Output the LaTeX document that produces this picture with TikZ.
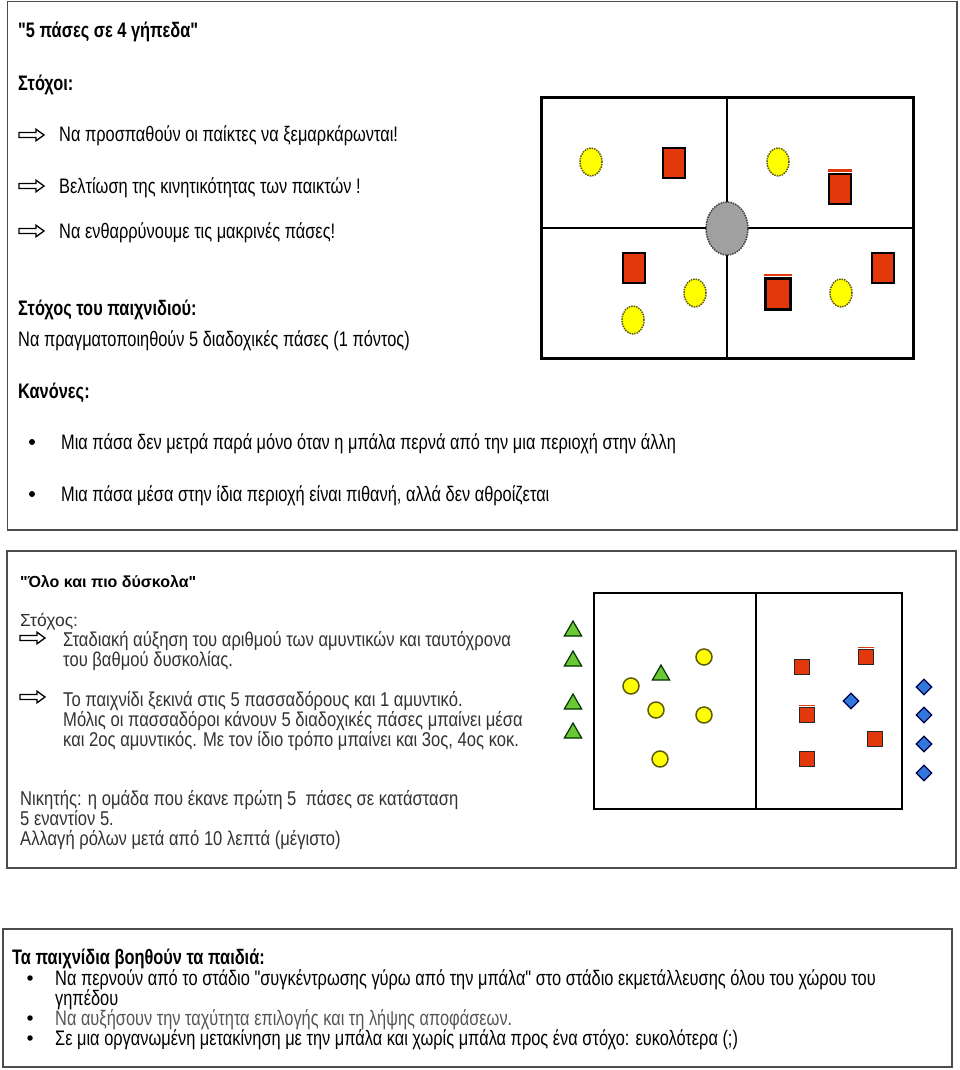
\documentclass[tikz,border=0pt]{standalone}
\usepackage{fontspec}
\setmainfont{Liberation Sans}[FakeStretch=0.78, Ligatures=TeXOff]
\newfontfamily\widefont{Liberation Sans}[Ligatures=TeXOff]
\newfontfamily\pbfont{Liberation Sans}[FakeStretch=0.83, Ligatures=TeXOff]
\usetikzlibrary{shapes.geometric}
\definecolor{pyellow}{RGB}{255,255,0}
\definecolor{yedge}{RGB}{95,90,10}
\definecolor{pred}{RGB}{226,56,12}
\definecolor{pgray}{RGB}{160,160,160}
\definecolor{pgreen}{RGB}{108,200,50}
\definecolor{pblue}{RGB}{50,120,220}
\definecolor{txtgray}{RGB}{50,50,50}
\definecolor{lightgray}{RGB}{85,85,85}
\tikzset{
  panel/.style={draw=black!70, line width=1.2pt},
  ta/.style={anchor=base west, inner sep=0, font=\fontsize{21}{24}\selectfont},
  tab/.style={ta, font=\fontsize{21}{24}\selectfont\bfseries},
  tb/.style={anchor=base west, inner sep=0, text=txtgray, font=\pbfont\fontsize{20}{22}\selectfont},
  tc/.style={anchor=base west, inner sep=0, font=\fontsize{21}{22}\selectfont},
  tcb/.style={tc, font=\fontsize{21}{22}\selectfont\bfseries},
  bul/.style={circle, fill=black, inner sep=0, minimum size=6},
  hollowarrow/.pic={\draw[line width=1.3pt, line join=miter]
     (0,-2.5)--(17,-2.5)--(17,-5.8)--(25,0)--(17,5.8)--(17,2.5)--(0,2.5)--cycle;},
  yel/.style={ellipse, fill=pyellow, draw=yedge, densely dotted, line width=1.5pt, minimum width=22, minimum height=28, inner sep=0},
  redbox/.style={rectangle, fill=pred, draw=black, line width=2.5pt, minimum width=22, minimum height=30, inner sep=0},
  ballst/.style={ellipse, fill=pgray, draw=black!75, densely dotted, line width=1.5pt, minimum width=42, minimum height=53, inner sep=0},
  yel2/.style={circle, fill=pyellow, draw=yedge, line width=1.5pt, minimum size=16, inner sep=0},
  red2/.style={rectangle, fill=pred, draw=black!85, line width=1.6pt, minimum size=15, inner sep=0},
  tri/.style={regular polygon, regular polygon sides=3, fill=pgreen, draw=black!80!green, line width=1.2pt, minimum size=20, inner sep=0},
  dia/.style={diamond, fill=pblue, draw=black!70!blue, line width=1.2pt, minimum width=16, minimum height=16, inner sep=0},
  redtop/.style={draw=pred, line width=2.6pt}
}
\begin{document}
\begin{tikzpicture}[x=1pt,y=-1pt]
\useasboundingbox[fill=white] (0,0) rectangle (960,1070);
% ---------- panel 1 ----------
\draw[panel] (7.5,1.5) rectangle (957,530);
\node[tab] (t1) at (18,37.5) {"5 πάσες σε 4 γήπεδα"};
\node[tab] (t2) at (18,91) {Στόχοι:};
\pic at (19,135) {hollowarrow};
\pic at (19,186) {hollowarrow};
\pic at (19,231) {hollowarrow};
\node[ta] (a1) at (59,142) {Να προσπαθούν οι παίκτες να ξεμαρκάρωνται!};
\node[ta] (a2) at (59,193) {Βελτίωση της κινητικότητας των παικτών !};
\node[ta] (a3) at (59,238) {Να ενθαρρύνουμε τις μακρινές πάσες!};
\node[tab] (t3) at (18,315) {Στόχος του παιχνιδιού:};
\node[ta] (t4) at (18,346) {Να πραγματοποιηθούν 5 διαδοχικές πάσες (1 πόντος)};
\node[tab] (t5) at (18,398) {Κανόνες:};
\node[bul] (b1) at (32,442) {};
\node[bul] (b2) at (32,494) {};
\node[ta] (r1) at (61,449) {Μια πάσα δεν μετρά παρά μόνο όταν η μπάλα περνά από την μια περιοχή στην άλλη};
\node[ta] (r2) at (61,501) {Μια πάσα μέσα στην ίδια περιοχή είναι πιθανή, αλλά δεν αθροίζεται};
% field 1
\draw[line width=3pt] (541,98) rectangle (913,358);
\draw[line width=2.5pt] (727,98) -- (727,358) (541,228) -- (913,228);
\node[ballst] (ball) at (727,228.5) {};
\node[yel] (y1) at (591,162) {};
\node[yel] (y2) at (778,162) {};
\node[yel] (y3) at (695,293) {};
\node[yel] (y4) at (633,320) {};
\node[yel] (y5) at (841,293) {};
\node[redbox] (q1) at (674,163) {};
\node[redbox] (q2) at (840,189) {};
\node[redbox] (q3) at (634,268) {};
\node[redbox, minimum width=25, minimum height=31] (q4) at (778,294) {};
\node[redbox] (q5) at (883,268) {};
\draw[redtop] ([yshift=2.2pt]q2.north west) -- ([yshift=2.2pt]q2.north east);
\draw[redtop] ([yshift=2.2pt]q4.north west) -- ([yshift=2.2pt]q4.north east);
% ---------- panel 2 ----------
\draw[panel] (7,551) rectangle (956,868);
\node[anchor=base west, inner sep=0, font=\widefont\fontsize{16}{18}\selectfont\bfseries] (u1) at (20,587) {"Όλο και πιο δύσκολα"};
\node[anchor=base west, inner sep=0, text=txtgray, font=\widefont\fontsize{17.5}{20}\selectfont] (u2) at (20,626) {Στόχος:};
\pic at (20,638) {hollowarrow};
\pic at (20,697) {hollowarrow};
\node[tb] (v1) at (63,646.5) {Σταδιακή αύξηση του αριθμού των αμυντικών και ταυτόχρονα};
\node[tb] (v2) at (63,666.5) {του βαθμού δυσκολίας.};
\node[tb] (v3) at (63,706.5) {Το παιχνίδι ξεκινά στις 5 πασσαδόρους και 1 αμυντικό.};
\node[tb] (v4) at (63,726.5) {Μόλις οι πασσαδόροι κάνουν 5 διαδοχικές πάσες μπαίνει μέσα};
\node[tb] (v5) at (63,746.5) {και 2ος αμυντικός. Με τον ίδιο τρόπο μπαίνει και 3ος, 4ος κοκ.};
\node[tb] (w1) at (20,805.5) {Νικητής: η ομάδα που έκανε πρώτη 5~ πάσες σε κατάσταση};
\node[tb] (w2) at (20,825.5) {5 εναντίον 5.};
\node[tb] (w3) at (20,845.5) {Αλλαγή ρόλων μετά από 10 λεπτά (μέγιστο)};
% field 2
\draw[line width=2pt] (594,593) rectangle (902,809);
\draw[line width=2pt] (756,593) -- (756,809);
\node[tri] (g1) at (573,631) {};
\node[tri] (g2) at (573,661) {};
\node[tri] (g3) at (573,704) {};
\node[tri] (g4) at (573,733) {};
\node[tri] (g5) at (661,675) {};
\node[yel2] (c1) at (704,657) {};
\node[yel2] (c2) at (631,686) {};
\node[yel2] (c3) at (656,710) {};
\node[yel2] (c4) at (704,715) {};
\node[yel2] (c5) at (660,759) {};
\node[red2] (s1) at (802,667) {};
\node[red2] (s2) at (866,657) {};
\node[red2] (s3) at (807,715) {};
\node[red2] (s4) at (875,739) {};
\node[red2] (s5) at (807,759) {};
\draw[draw=pred, line width=1.6pt] ([yshift=1.4pt]s2.north west) -- ([yshift=1.4pt]s2.north east);
\draw[draw=pred, line width=1.6pt] ([yshift=1.4pt]s3.north west) -- ([yshift=1.4pt]s3.north east);
\node[dia] (d0) at (851,701) {};
\node[dia] (d1) at (924,687) {};
\node[dia] (d2) at (924,715) {};
\node[dia] (d3) at (924,744) {};
\node[dia] (d4) at (924,773) {};
% ---------- panel 3 ----------
\draw[panel] (3,929) rectangle (952,1067);
\node[tcb] (z0) at (12,964) {Τα παιχνίδια βοηθούν τα παιδιά:};
\node[bul, minimum size=5.5] (zb1) at (30,978) {};
\node[bul, minimum size=5.5] (zb2) at (30,1018) {};
\node[bul, minimum size=5.5] (zb3) at (30,1038) {};
\node[tc] (z1) at (55,985) {Να περνούν από το στάδιο "συγκέντρωσης γύρω από την μπάλα" στο στάδιο εκμετάλλευσης όλου του χώρου του};
\node[tc] (z2) at (55,1005) {γηπέδου};
\node[tc, text=lightgray] (z3) at (55,1025) {Να αυξήσουν την ταχύτητα επιλογής και τη λήψης αποφάσεων.};
\node[tc] (z4) at (55,1045) {Σε μια οργανωμένη μετακίνηση με την μπάλα και χωρίς μπάλα προς ένα στόχο: ευκολότερα (;)};
\end{tikzpicture}
\end{document}
